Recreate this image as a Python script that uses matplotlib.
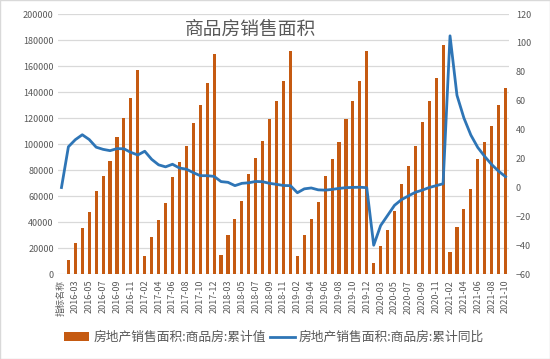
import matplotlib
matplotlib.use('Agg')
import numpy as np
import matplotlib.pyplot as plt
from matplotlib.patches import Rectangle, Patch
from matplotlib.lines import Line2D

plt.rcParams['font.family'] = ['Noto Sans CJK SC', 'DejaVu Sans']

MONTHS = [
    '指标名称',
    '2016-02', '2016-03', '2016-04', '2016-05', '2016-06', '2016-07',
    '2016-08', '2016-09', '2016-10', '2016-11', '2016-12',
    '2017-02', '2017-03', '2017-04', '2017-05', '2017-06', '2017-07',
    '2017-08', '2017-09', '2017-10', '2017-11', '2017-12',
    '2018-02', '2018-03', '2018-04', '2018-05', '2018-06', '2018-07',
    '2018-08', '2018-09', '2018-10', '2018-11', '2018-12',
    '2019-02', '2019-03', '2019-04', '2019-05', '2019-06', '2019-07',
    '2019-08', '2019-09', '2019-10', '2019-11', '2019-12',
    '2020-02', '2020-03', '2020-04', '2020-05', '2020-06', '2020-07',
    '2020-08', '2020-09', '2020-10', '2020-11', '2020-12',
    '2021-02', '2021-03', '2021-04', '2021-05', '2021-06', '2021-07',
    '2021-08', '2021-09', '2021-10',
]

# 累计值 (万平方米), first category has no bar
AREA = [
    np.nan,
    10994, 24316, 35789, 47946, 64302, 75763, 87249, 105185, 120402, 135829, 157349,
    14050, 29035, 41669, 55157, 74662, 86006, 98773, 116000, 130254, 147236, 169408,
    15009, 30129, 42417, 56408, 77143, 89043, 102561, 119374, 133361, 148604, 171654,
    14102, 29829, 42139, 55518, 75786, 88865, 101849, 119179, 133251, 148905, 171558,
    8475, 21978, 33966, 48703, 69404, 83328, 98486, 117073, 133294, 150887, 176086,
    17363, 36007, 49993, 65777, 88635, 101853, 114193, 130332, 143041,
]

# 累计同比 (%)
YOY = [
    0,
    28.2, 33.1, 36.5, 33.2, 27.9, 26.4, 25.5, 26.9, 26.8, 24.3, 22.5,
    25.1, 19.5, 15.7, 14.3, 16.1, 13.5, 12.7, 10.3, 8.2, 8.2, 7.7,
    4.1, 3.6, 1.3, 2.9, 3.3, 4.2, 4.0, 2.9, 2.2, 1.4, 1.3,
    -3.6, -0.9, -0.3, -1.6, -1.8, -1.3, -0.6, -0.1, 0.1, 0.2, -0.1,
    -39.9, -26.3, -19.3, -12.3, -8.4, -5.8, -3.3, -1.8, 0.0, 1.3, 2.6,
    104.9, 63.8, 48.1, 36.3, 27.7, 21.5, 15.9, 11.3, 7.5,
]

BAR_COLOR = '#C55A11'
LINE_COLOR = '#2E75B6'
TEXT_COLOR = '#595959'

x = np.arange(len(MONTHS))

fig = plt.figure(figsize=(5.5, 3.59), dpi=100)
ax = fig.add_axes([58 / 550, 1 - 274.3 / 359, 451 / 550, 260.3 / 359])

ax.bar(x, AREA, width=0.45, color=BAR_COLOR, zorder=2)
ax.set_xlim(-0.5, len(MONTHS) - 0.5)
ax.set_ylim(0, 200000)
ax.set_yticks(range(0, 200001, 20000))
ax.grid(axis='y', color='#D9D9D9', linewidth=0.9)
ax.set_axisbelow(True)
ax.set_xticks(x[::2])
ax.set_xticklabels(MONTHS[::2], rotation=90)
ax.tick_params(axis='x', length=0, pad=4, labelsize=6.5, labelcolor=TEXT_COLOR)
ax.tick_params(axis='y', length=0, pad=3, labelsize=6.5, labelcolor=TEXT_COLOR)
for s in ax.spines.values():
    s.set_visible(False)

ax2 = ax.twinx()
ax2.plot(x, YOY, color=LINE_COLOR, linewidth=2.0, zorder=3)
ax2.set_ylim(-60, 120)
ax2.set_yticks(range(-60, 121, 20))
ax2.tick_params(axis='y', length=0, pad=5, labelsize=6.5, labelcolor=TEXT_COLOR)
for s in ax2.spines.values():
    s.set_visible(False)

fig.text(250 / 550, 1 - 29 / 359, '商品房销售面积', ha='center', va='center',
         fontsize=13.5, color=TEXT_COLOR)

handles = [
    Patch(facecolor=BAR_COLOR, edgecolor='none'),
    Line2D([0], [0], color=LINE_COLOR, linewidth=2.0),
]
labels = ['房地产销售面积:商品房:累计值', '房地产销售面积:商品房:累计同比']
fig.legend(handles, labels, loc='center', bbox_to_anchor=(274 / 550, 1 - 337.7 / 359),
           ncol=2, frameon=False, fontsize=9.2, labelcolor=TEXT_COLOR,
           handlelength=2.0, handletextpad=0.3, columnspacing=0.3)

fig.patches.append(Rectangle((0, 0), 1, 1, transform=fig.transFigure, fill=False,
                             edgecolor='#D9D9D9', linewidth=1))

fig.savefig('out.png', dpi=100)
